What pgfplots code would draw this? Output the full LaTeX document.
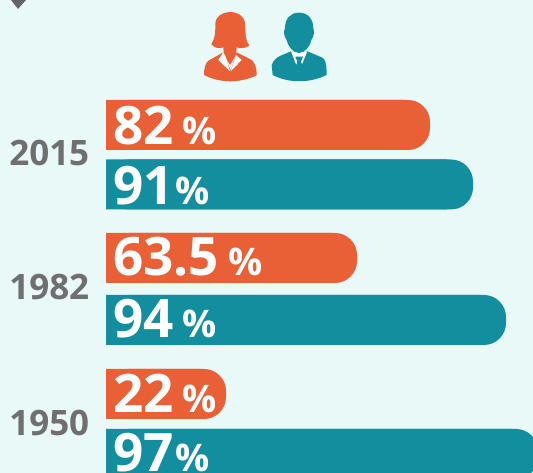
\documentclass[border=0pt]{standalone}
\usepackage{pgfplots}
\usepackage{pgfplotstable}
\usepackage{fontspec}
\setmainfont{Open Sans}
\pgfplotsset{compat=1.18}
\definecolor{bg}{HTML}{E9F9F8}
\definecolor{org}{HTML}{E96036}
\definecolor{tl}{HTML}{138E9F}
\definecolor{yr}{HTML}{6F6F6F}
% drawn bar lengths in px, y centres in px from the bottom
\pgfplotstableread{
len y
324 348
251 215
120 79
}\orangebars
\pgfplotstableread{
len y
367 288.5
400 153
432 19
}\tealbars
\pgfplotstableread{
x y label
7 328 82
7 197 63.5
7 60 22
7 135 94
}\widelabels
\pgfplotstableread{
x y label
7 268 91
7 1 97
}\narrowlabels
\newcommand{\pctlabel}[2]{{\bfseries\fontsize{53}{53}\selectfont #1\hspace{#2}\fontsize{38}{38}\selectfont\%}}
\begin{document}
\begin{tikzpicture}
\path[use as bounding box,clip] (0,0) rectangle (533pt,473pt);
\begin{axis}[
  at={(0,0)},anchor=south west,
  scale only axis,width=533pt,height=473pt,
  xmin=-106,xmax=427,ymin=0,ymax=473,
  axis background/.style={fill=bg},
  axis line style={draw=none},
  tick style={draw=none},
  xtick=\empty,
  ytick={320,186,50},
  yticklabels={2015,1982,1950},
  yticklabel style={anchor=east,xshift=97pt,font=\bfseries\fontsize{35}{35}\selectfont,text=yr},
  xbar,bar width=50pt,bar shift=0pt,
]
% rounded ends
\addplot[fill=org,draw=none,rounded corners=22pt] table[x=len,y=y] {\orangebars};
\addplot[fill=tl,draw=none,rounded corners=22pt] table[x=len,y=y] {\tealbars};
% square left parts
\addplot[fill=org,draw=none] table[x expr=\thisrow{len}-26,y=y] {\orangebars};
\addplot[fill=tl,draw=none] table[x expr=\thisrow{len}-26,y=y] {\tealbars};
% value labels
\addplot[draw=none,forget plot,fill=none,
  point meta=explicit symbolic,
  nodes near coords={\pctlabel{\pgfplotspointmeta}{9pt}},
  nodes near coords style={text=white,anchor=base west,inner sep=0pt,xshift=0pt}]
  table[x=x,y=y,meta=label] {\widelabels};
\addplot[draw=none,forget plot,fill=none,
  point meta=explicit symbolic,
  nodes near coords={\pctlabel{\pgfplotspointmeta}{2pt}},
  nodes near coords style={text=white,anchor=base west,inner sep=0pt,xshift=0pt}]
  table[x=x,y=y,meta=label] {\narrowlabels};
\end{axis}
% corner mark
\fill[yr!90!black] (11pt,473pt) -- (26pt,473pt) -- (18pt,464pt) -- cycle;
% icons, in 3x crop px
\begin{scope}[shift={(190pt,473pt)},x=0.3333pt,y=-0.3333pt]
\fill[org] (42,225) .. controls (42,205) and (46,190) .. (55,182)
  -- (100,157) -- (122,212) -- (140,157) -- (185,180)
  .. controls (196,190) and (200,205) .. (200,226)
  .. controls (150,250) and (90,250) .. (42,225) -- cycle;
\fill[org] (118,36) .. controls (142,36) and (162,45) .. (165,70)
  .. controls (167,95) and (165,122) .. (178,137)
  .. controls (165,146) and (150,146) .. (140,142)
  -- (138,165) -- (120,195) -- (102,165) -- (100,142)
  .. controls (90,146) and (75,146) .. (64,133)
  .. controls (76,115) and (76,95) .. (76,70)
  .. controls (78,48) and (96,38) .. (118,36) -- cycle;
\fill[white] (100,157) -- (85,180) -- (120,214) -- (107,170) -- cycle;
\fill[white] (138,165) -- (155,180) -- (122,214) -- cycle;
\fill[tl] (245,195) .. controls (250,180) and (262,172) .. (270,168)
  -- (303,154) -- (352,154) -- (395,172)
  .. controls (405,178) and (410,185) .. (410,225)
  .. controls (360,250) and (295,250) .. (248,225) -- cycle;
\fill[white] (303,154) -- (327,215) -- (352,154) -- cycle;
\fill[tl] (316,170) -- (339,170) -- (333,185) -- (341,205) -- (328,216) -- (315,205) -- (322,185) -- cycle;
\fill[tl] (327,38) .. controls (352,38) and (370,55) .. (370,85)
  .. controls (374,92) and (372,110) .. (365,118)
  .. controls (360,140) and (345,158) .. (327,159)
  .. controls (309,158) and (294,140) .. (289,118)
  .. controls (282,110) and (280,92) .. (285,85)
  .. controls (285,55) and (302,38) .. (327,38) -- cycle;
\end{scope}
\end{tikzpicture}
\end{document}
